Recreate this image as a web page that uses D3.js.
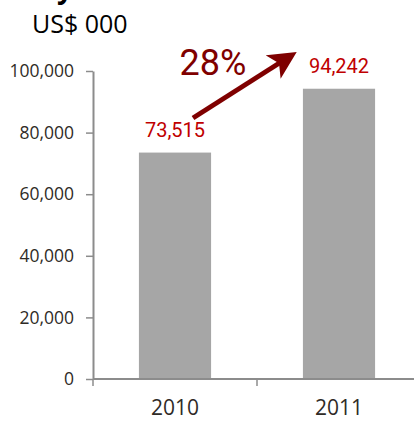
<!DOCTYPE html>
<html>
<head>
<meta charset="utf-8">
<script src="https://cdn.jsdelivr.net/npm/d3@7"></script>
<style>
  html, body { margin: 0; padding: 0; background: #fff; }
  svg { display: block; }
</style>
</head>
<body>
<script>
// Annual totals, US$ thousands
const years = ["2010", "2011"];
const values = [73515, 94242];
const yTicks = [0, 20000, 40000, 60000, 80000, 100000];
const growthLabel = "28%";

const W = 414, H = 421;
const margin = { left: 93, top: 71, bottom: 42 };

const svg = d3.select("body").append("svg")
  .attr("width", W).attr("height", H);

const x = d3.scaleBand()
  .domain(years)
  .range([margin.left, margin.left + 328])
  .paddingInner(0.56)
  .paddingOuter(0.28);

const y = d3.scaleLinear()
  .domain([0, 100000])
  .range([H - margin.bottom, margin.top]);

const axisColor = "#8c8c8c";
const textColor = "#2f2b26";
const fmt = d3.format(",");

// Cut-off heading above the unit line
svg.append("text")
  .attr("x", 73).attr("y", -2)
  .attr("text-anchor", "end")
  .attr("font-family", "Open Sans, sans-serif")
  .attr("font-weight", "bold")
  .attr("font-size", 28)
  .attr("fill", "#000")
  .text("y");

// Unit caption
svg.append("text")
  .attr("x", 32).attr("y", 33)
  .attr("font-family", "Open Sans, sans-serif")
  .attr("font-weight", 500)
  .attr("font-size", 25)
  .attr("fill", "#000")
  .text("US$ 000");

// Bars
svg.selectAll("rect.bar")
  .data(values)
  .join("rect")
  .attr("class", "bar")
  .attr("x", (d, i) => x(years[i]))
  .attr("width", x.bandwidth())
  .attr("y", d => y(d))
  .attr("height", d => y(0) - y(d))
  .attr("fill", "#a6a6a6");

// Y axis
const yAxis = svg.append("g")
  .attr("transform", `translate(${margin.left},0)`)
  .call(d3.axisLeft(y).tickValues(yTicks).tickFormat(fmt).tickSize(7).tickSizeOuter(0).tickPadding(12));
yAxis.select(".domain").attr("stroke", axisColor).attr("stroke-width", 2);
yAxis.selectAll(".tick line").attr("stroke", axisColor).attr("stroke-width", 1.5);
yAxis.selectAll(".tick text")
  .attr("font-family", "Open Sans, sans-serif")
  .attr("font-weight", 500)
  .attr("font-size", 17.5)
  .attr("fill", textColor);

// X axis: baseline with boundary ticks between categories
const xAxisG = svg.append("g").attr("transform", `translate(0,${y(0)})`);
xAxisG.append("line")
  .attr("x1", margin.left).attr("x2", W)
  .attr("stroke", axisColor).attr("stroke-width", 2);
const bounds = [margin.left, (x(years[0]) + x.bandwidth() + x(years[1])) / 2];
xAxisG.selectAll("line.bt")
  .data(bounds)
  .join("line")
  .attr("class", "bt")
  .attr("x1", d => d).attr("x2", d => d)
  .attr("y1", 0).attr("y2", 7)
  .attr("stroke", axisColor).attr("stroke-width", 1.5);
xAxisG.selectAll("text")
  .data(years)
  .join("text")
  .attr("x", d => x(d) + x.bandwidth() / 2)
  .attr("y", 36)
  .attr("text-anchor", "middle")
  .attr("font-family", "Open Sans, sans-serif")
  .attr("font-weight", 500)
  .attr("font-size", 21)
  .attr("fill", textColor)
  .text(d => d);

// Value labels
svg.selectAll("text.val")
  .data(values)
  .join("text")
  .attr("class", "val")
  .attr("x", (d, i) => x(years[i]) + x.bandwidth() / 2)
  .attr("y", d => y(d) - 16)
  .attr("text-anchor", "middle")
  .attr("font-family", "Roboto, sans-serif")
  .attr("font-size", 20)
  .attr("fill", "#c00000")
  .text(d => fmt(d));

// Growth arrow
const arrowColor = "#7f0000";
svg.append("defs").append("marker")
  .attr("id", "head")
  .attr("viewBox", "0 0 10 10")
  .attr("refX", 8).attr("refY", 5)
  .attr("markerWidth", 5.6).attr("markerHeight", 5.6)
  .attr("markerUnits", "strokeWidth")
  .attr("orient", "auto")
  .append("path")
  .attr("d", "M0,0 L10,5 L0,10 L2.5,5 Z")
  .attr("fill", arrowColor);

svg.append("line")
  .attr("x1", 193).attr("y1", 118)
  .attr("x2", 292).attr("y2", 55)
  .attr("stroke", arrowColor)
  .attr("stroke-width", 5)
  .attr("marker-end", "url(#head)");

svg.append("text")
  .attr("x", 213).attr("y", 75)
  .attr("text-anchor", "middle")
  .attr("font-family", "Roboto, sans-serif")
  .attr("font-size", 36)
  .attr("fill", arrowColor)
  .text(growthLabel);
</script>
</body>
</html>
